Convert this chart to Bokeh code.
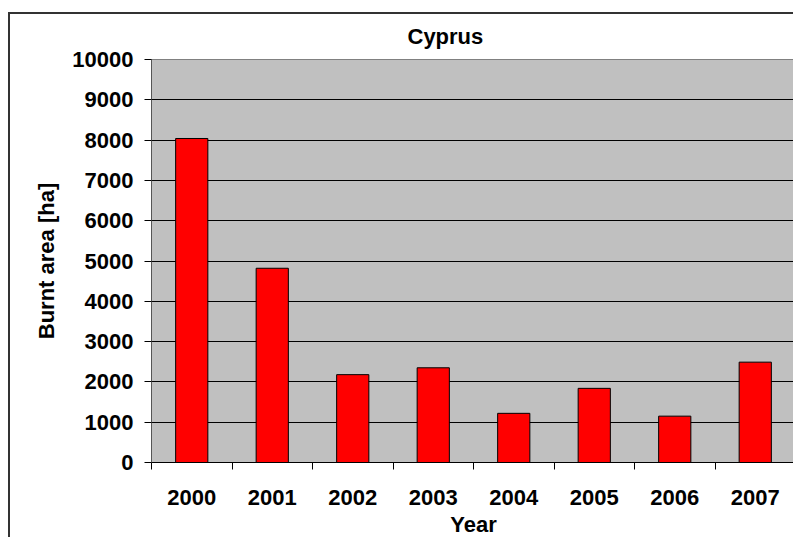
from bokeh.plotting import figure
from bokeh.models import FixedTicker, Range1d, ColumnDataSource
from bokeh.embed import file_html
from bokeh.resources import INLINE
import numpy as np

years = ["2000", "2001", "2002", "2003", "2004", "2005", "2006", "2007"]
burnt_area = [8040, 4820, 2180, 2350, 1220, 1840, 1150, 2490]
y_ticks = [0, 1000, 2000, 3000, 4000, 5000, 6000, 7000, 8000, 9000, 10000]

xpos = [i + 0.5 for i in range(len(years))]
src = ColumnDataSource(dict(x=xpos, top=burnt_area, year=years))

FONT = "Liberation Sans"
FS = "22px"

p = figure(width=785, height=525, output_backend="svg", toolbar_location=None,
           x_range=Range1d(0, len(years)), y_range=Range1d(0, 10000),
           min_border_left=141, min_border_right=0, min_border_top=45, min_border_bottom=76)
p.styles = {"border-top": "2px solid #333333", "border-left": "2px solid #333333",
            "margin-top": "12px", "margin-left": "8px"}

p.vbar(x="x", top="top", width=0.4, source=src, fill_color="#ff0000",
       line_color="black", line_width=1)

p.background_fill_color = "#c0c0c0"
p.border_fill_color = "white"
p.outline_line_color = "#808080"
p.outline_line_width = 1

# title
p.title.text = "Cyprus"
p.title.text_font = FONT
p.title.text_font_size = FS
p.title.text_font_style = "bold"
p.title.text_color = "black"
p.title.align = "left"
p.title.offset = 256
p.title.vertical_align = "top"
p.title.standoff = 18

# grid
p.xgrid.visible = False
p.ygrid.grid_line_color = "black"
p.ygrid.grid_line_width = 1
p.ygrid.ticker = FixedTicker(ticks=y_ticks)

# x axis
xa = p.xaxis[0]
xa.ticker = FixedTicker(ticks=xpos, minor_ticks=list(range(len(years) + 1)))
xa.major_label_overrides = {x: y for x, y in zip(xpos, years)}
xa.major_tick_out = 0
xa.major_tick_in = 0
xa.minor_tick_out = 7
xa.minor_tick_in = 0
xa.minor_tick_line_color = "black"
xa.axis_line_color = "black"
xa.major_label_standoff = 20
xa.major_label_text_font = FONT
xa.major_label_text_font_size = FS
xa.major_label_text_font_style = "bold"
xa.major_label_text_color = "black"
xa.axis_label = "Year"
xa.axis_label_text_font = FONT
xa.axis_label_text_font_size = FS
xa.axis_label_text_font_style = "bold"
xa.axis_label_text_color = "black"
xa.axis_label_standoff = 4

# y axis
ya = p.yaxis[0]
ya.ticker = FixedTicker(ticks=y_ticks)
ya.major_tick_out = 7
ya.major_tick_in = 0
ya.minor_tick_out = 0
ya.minor_tick_in = 0
ya.major_tick_line_color = "black"
ya.axis_line_color = "#555555"
ya.major_label_standoff = 11
ya.major_label_text_font = FONT
ya.major_label_text_font_size = FS
ya.major_label_text_font_style = "bold"
ya.major_label_text_color = "black"
ya.axis_label = "Burnt area [ha]"
ya.axis_label_text_font = FONT
ya.axis_label_text_font_size = FS
ya.axis_label_text_font_style = "bold"
ya.axis_label_text_color = "black"
ya.axis_label_standoff = 10

open("out.html", "w").write(file_html(p, INLINE))
